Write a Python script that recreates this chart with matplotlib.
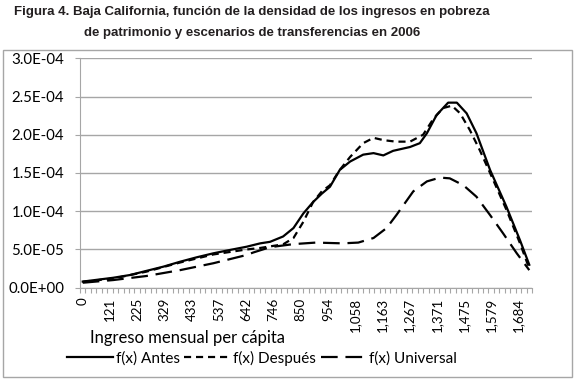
import numpy as np
import matplotlib.pyplot as plt
from matplotlib.patches import Rectangle

# categorías del eje x (ingreso mensual per cápita), una etiqueta cada 5 categorías
etiquetas_x = ["0", "121", "225", "329", "433", "537", "642", "746", "850", "954",
               "1,058", "1,163", "1,267", "1,371", "1,475", "1,579", "1,684"]
n_categorias = 83

# valores (posicion = indice de categoria, densidad en unidades de 1e-5)
antes_x = [0, 5.6, 8.7, 11.7, 14.8, 17.9, 20.9, 24.0, 27.0, 30.1, 32.6, 34.4, 36.8, 38.7,
           40.5, 42.3, 43.9, 45.4, 47.2, 49.1, 51.5, 53.4, 55.2, 57.0, 60.1, 61.9, 63.2,
           65.0, 67.1, 68.7, 70.5, 72.3, 74.8, 77.8, 80.3, 82]
antes_y = [0.8, 1.3, 1.66, 2.2, 2.75, 3.4, 3.97, 4.5, 4.93, 5.36, 5.8, 6.0, 6.7, 7.8,
           9.7, 11.2, 12.3, 13.2, 15.4, 16.5, 17.4, 17.6, 17.3, 17.9, 18.4, 18.9, 20.2,
           22.6, 24.2, 24.2, 22.8, 20.2, 15.4, 10.6, 6.2, 3.0]

despues_x = [0, 5.6, 11.7, 17.9, 24.0, 30.1, 32.6, 34.4, 36.8, 38.7, 40.5, 42.3, 43.9,
             45.4, 47.2, 49.1, 51.5, 53.4, 55.2, 57.5, 60.1, 62.5, 64.4, 66.2, 67.8,
             69.3, 71.1, 72.9, 74.8, 77.8, 80.3, 82]
despues_y = [0.78, 1.2, 2.1, 3.3, 4.35, 5.0, 5.2, 5.4, 5.67, 6.5, 8.6, 11.2, 12.6,
             13.4, 15.4, 17.1, 18.9, 19.6, 19.3, 19.1, 19.1, 20.0, 22.1, 23.5, 23.8,
             22.8, 20.6, 18.0, 15.0, 10.2, 5.8, 2.5]

universal_x = [0, 5.6, 11.7, 17.9, 24.0, 30.1, 31.3, 34.4, 38.7, 42.8, 47.7, 50.6, 53.4,
               55.8, 57.6, 60.7, 63.2, 65.6, 67.4, 69.9, 72.3, 74.8, 77.2, 79.7, 82]
universal_y = [0.65, 1.0, 1.53, 2.3, 3.2, 4.28, 4.6, 5.3, 5.7, 5.9, 5.8, 5.9, 6.5,
               7.8, 9.5, 12.6, 13.9, 14.4, 14.3, 13.4, 11.9, 9.5, 7.1, 4.5, 2.3]

yticks = [0, 5e-5, 1e-4, 1.5e-4, 2e-4, 2.5e-4, 3e-4]
ytick_labels = ["0.0E+00", "5.0E-05", "1.0E-04", "1.5E-04", "2.0E-04", "2.5E-04", "3.0E-04"]

fuente = ["Lato", "DejaVu Sans"]
gris = "#a6a6a6"

fig = plt.figure(figsize=(5.8, 3.8), dpi=100)
ax = fig.add_axes([80/580, 1-287.7/380, 452/580, 229.4/380])

ax.plot(antes_x, np.array(antes_y)*1e-5, color="black", lw=1.6, label="f(x) Antes")
ax.plot(despues_x, np.array(despues_y)*1e-5, color="black", lw=1.6,
        dashes=(3.2, 2.2), label="f(x) Después")
ax.plot(universal_x, np.array(universal_y)*1e-5, color="black", lw=1.6,
        dashes=(7.5, 3.5), label="f(x) Universal")

ax.set_xlim(-0.5, n_categorias - 0.5)
ax.set_ylim(0, 3e-4)
ax.set_yticks(yticks)
ax.set_yticklabels(ytick_labels, family=fuente, fontsize=10.8)
ax.set_xticks(range(0, 81, 5))
ax.set_xticklabels(etiquetas_x, rotation=90, family=fuente, fontsize=9.6)
ax.set_xticks(np.arange(-0.5, n_categorias, 1), minor=True)
ax.tick_params(axis="x", which="major", length=0, pad=7)
ax.tick_params(axis="x", which="minor", length=3.5, color=gris, width=0.8)
ax.tick_params(axis="y", length=3.5, color=gris, width=0.8, pad=8)

ax.grid(axis="y", color=gris, lw=1)
ax.set_axisbelow(True)
for s in ["top", "right"]:
    ax.spines[s].set_visible(False)
ax.spines["left"].set_color(gris)
ax.spines["bottom"].set_color(gris)

fig.text(187/580, 1-338/380, "Ingreso mensual per cápita", ha="center", va="center",
         family=fuente, fontsize=12)

fig.legend(loc="center", bbox_to_anchor=(262/580, 1-358/380), ncol=3, frameon=False,
           prop={"family": fuente, "size": 11}, handlelength=3.0, columnspacing=0.3,
           handletextpad=0.2)

fig.text(252/580, 1-12/380, "Figura 4. Baja California, función de la densidad de los ingresos en pobreza",
         ha="center", va="center", family="Liberation Sans", weight="bold", fontsize=9.5,
         color="#231f20")
fig.text(252/580, 1-33/380, "de patrimonio y escenarios de transferencias en 2006",
         ha="center", va="center", family="Liberation Sans", weight="bold", fontsize=9.5,
         color="#231f20")

fig.patches.append(Rectangle((3/580, 1-377/380), 569/580, 327/380, transform=fig.transFigure,
                             fill=False, edgecolor=gris, lw=1))

fig.savefig("out.png", dpi=100)
